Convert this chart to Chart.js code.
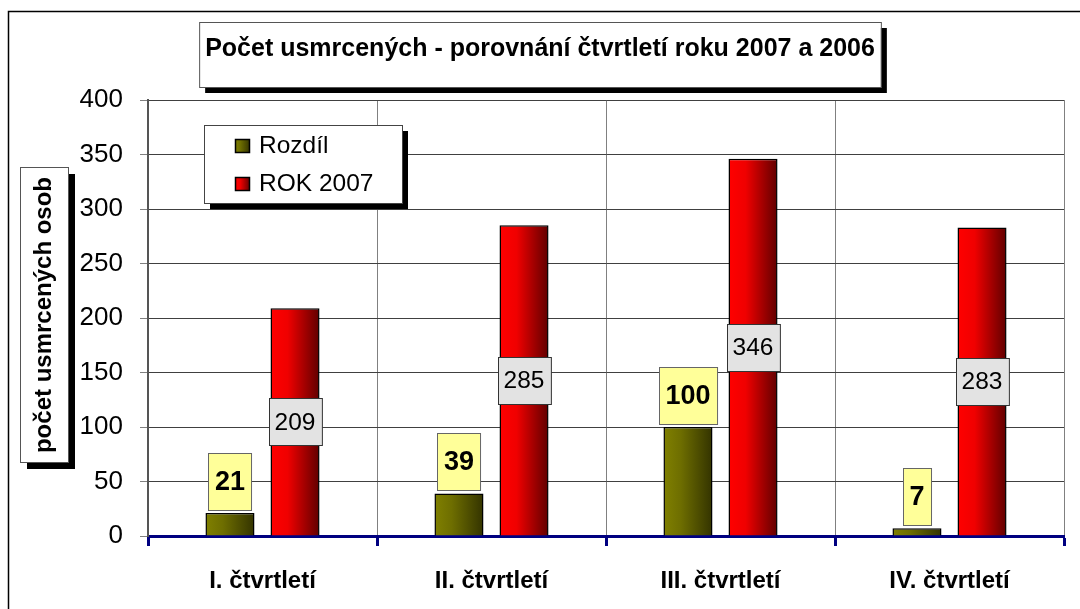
<!DOCTYPE html>
<html>
<head>
<meta charset="utf-8">
<script src="https://cdn.jsdelivr.net/npm/chart.js@4.4.1/dist/chart.umd.min.js"></script>
<style>
  html, body { margin: 0; padding: 0; background: #fff; }
  #wrap { width: 1080px; height: 609px; position: relative; }
</style>
</head>
<body>
<div id="wrap"><canvas id="chart" width="1080" height="609"></canvas></div>
<script>
// data
const categories = ['I. čtvrtletí', 'II. čtvrtletí', 'III. čtvrtletí', 'IV. čtvrtletí'];
const seriesNames = ['Rozdíl', 'ROK 2007'];
const rozdil = [21, 39, 100, 7];
const rok2007 = [209, 285, 346, 283];
const yMin = 0, yMax = 400, yStep = 50;
const chartTitle = 'Počet usmrcených - porovnání čtvrtletí roku 2007 a 2006';
const yTitle = 'počet usmrcených osob';

const FONT = "'Liberation Sans', Arial, sans-serif";
// gradient stops per series (left -> right of each bar)
const gradStops = [
    [[0, '#808000'], [0.35, '#6e6e00'], [1, '#333300']],
    [[0, '#ff0000'], [0.35, '#f00000'], [1, '#600000']]
];

function makeGrad(ctx, x0, x1, stops) {
    const g = ctx.createLinearGradient(x0, 0, x1, 0);
    stops.forEach(s => g.addColorStop(s[0], s[1]));
    return g;
}

function shadowBox(ctx, x, y, w, h, off, stroke) {
    ctx.save();
    ctx.fillStyle = '#000';
    ctx.fillRect(x + off, y + off, w, h);
    ctx.fillStyle = '#fff';
    ctx.fillRect(x, y, w, h);
    ctx.strokeStyle = stroke;
    ctx.lineWidth = 1;
    ctx.strokeRect(x + 0.5, y + 0.5, w, h);
    ctx.restore();
}

// frame, title box, y axis title
const decorPlugin = {
    id: 'decor',
    beforeDraw(chart) {
        const ctx = chart.ctx;
        ctx.save();
        ctx.fillStyle = '#fff';
        ctx.fillRect(0, 0, chart.width, chart.height);
        ctx.strokeStyle = '#000';
        ctx.lineWidth = 1.5;
        ctx.beginPath();
        ctx.moveTo(8.5, chart.height);
        ctx.lineTo(8.5, 11.5);
        ctx.lineTo(chart.width, 11.5);
        ctx.stroke();

        // box behind the chart title
        const tb = chart.titleBlock;
        const opts = tb.options;
        ctx.font = 'bold ' + opts.font.size + 'px ' + FONT;
        const tw = ctx.measureText(opts.text).width;
        const cx = tb.left + tb.width / 2;
        const cy = tb.top + opts.padding.top + opts.font.size * 1.2 / 2;
        shadowBox(ctx, cx - tw / 2 - 6, cy - 27, tw + 12, 65, 6, '#555');

        // y axis title in its own box
        shadowBox(ctx, 20, 167, 48, 295, 7, '#555');
        ctx.translate(44, 315);
        ctx.rotate(-Math.PI / 2);
        ctx.fillStyle = '#000';
        ctx.font = 'bold 24px ' + FONT;
        ctx.textAlign = 'center';
        ctx.textBaseline = 'middle';
        ctx.fillText(yTitle, 0, 0);
        ctx.restore();
    }
};

// horizontal gradient on each bar
const gradPlugin = {
    id: 'barGrad',
    beforeDatasetsDraw(chart) {
        const ctx = chart.ctx;
        chart.data.datasets.forEach((ds, di) => {
            chart.getDatasetMeta(di).data.forEach(bar => {
                const p = bar.getProps(['x', 'width'], true);
                bar.options.backgroundColor = makeGrad(ctx, p.x - p.width / 2, p.x + p.width / 2, gradStops[di]);
            });
        });
    }
};

// value boxes + legend
const labelPlugin = {
    id: 'valueBoxes',
    afterDatasetsDraw(chart) {
        const ctx = chart.ctx;
        ctx.save();
        ctx.textAlign = 'center';
        ctx.textBaseline = 'middle';

        // Rozdíl: yellow box sitting on top of the bar
        chart.getDatasetMeta(0).data.forEach((bar, i) => {
            const txt = String(chart.data.datasets[0].data[i]);
            ctx.font = 'bold 27px ' + FONT;
            const w = ctx.measureText(txt).width + 13;
            const h = 57;
            const bx = Math.round(bar.x - w / 2) + 0.5;
            const by = Math.round(bar.y - 3 - h) + 0.5;
            ctx.fillStyle = '#ffff99';
            ctx.fillRect(bx, by, w, h);
            ctx.strokeStyle = '#666';
            ctx.lineWidth = 1;
            ctx.strokeRect(bx, by, w, h);
            ctx.fillStyle = '#000';
            ctx.fillText(txt, bar.x, by + h / 2 + 1);
        });

        // ROK 2007: grey box in the middle of the bar
        chart.getDatasetMeta(1).data.forEach((bar, i) => {
            const txt = String(chart.data.datasets[1].data[i]);
            ctx.font = '24.5px ' + FONT;
            const w = ctx.measureText(txt).width + 12;
            const h = 47;
            const cy = (bar.y + bar.base) / 2;
            const bx = Math.round(bar.x - w / 2) + 0.5;
            const by = Math.round(cy - h / 2) + 0.5;
            ctx.fillStyle = '#e3e3e3';
            ctx.fillRect(bx, by, w, h);
            ctx.strokeStyle = '#333';
            ctx.lineWidth = 1;
            ctx.strokeRect(bx, by, w, h);
            ctx.fillStyle = '#000';
            ctx.fillText(txt, bar.x, cy + 1);
        });

        // legend
        shadowBox(ctx, 204, 125, 198, 78, 6, '#444');
        ctx.textAlign = 'left';
        ctx.font = '24.5px ' + FONT;
        chart.data.datasets.forEach((ds, di) => {
            const my = 139 + di * 38;
            ctx.fillStyle = makeGrad(ctx, 235, 250, gradStops[di]);
            ctx.fillRect(235, my, 15, 14);
            ctx.strokeStyle = '#000';
            ctx.lineWidth = 1.5;
            ctx.strokeRect(235.5, my + 0.5, 14, 13);
            ctx.fillStyle = '#000';
            ctx.fillText(ds.label, 259, my + 7);
        });
        ctx.restore();
    }
};

const ctx = document.getElementById('chart').getContext('2d');
const chart = new Chart(ctx, {
    type: 'bar',
    data: {
        labels: categories,
        datasets: [
            {
                label: seriesNames[0],
                data: rozdil,
                backgroundColor: () => '#808000',
                borderColor: '#000',
                borderWidth: 1.5,
                categoryPercentage: 0.568,
                barPercentage: 0.754
            },
            {
                label: seriesNames[1],
                data: rok2007,
                backgroundColor: () => '#ff0000',
                borderColor: '#000',
                borderWidth: 1.5,
                categoryPercentage: 0.568,
                barPercentage: 0.754
            }
        ]
    },
    options: {
        responsive: false,
        animation: false,
        events: [],
        devicePixelRatio: 1,
        layout: { padding: { left: 16, top: 0, bottom: 0, right: 16 } },
        scales: {
            x: {
                grid: {
                    offset: true,
                    color: '#808080',
                    lineWidth: 1,
                    tickLength: 10,
                    tickColor: '#000080',
                    tickWidth: 3
                },
                border: { color: '#000080', width: 3 },
                ticks: {
                    color: '#000',
                    padding: 21,
                    maxRotation: 0,
                    font: { family: FONT, size: 24, weight: 'bold' }
                },
                afterFit(scale) { scale.height = 73; }
            },
            y: {
                min: yMin,
                max: yMax,
                grid: {
                    color: '#404040',
                    tickLength: 8,
                    tickColor: '#808080'
                },
                border: { color: '#555', width: 2 },
                ticks: {
                    stepSize: yStep,
                    color: '#000',
                    padding: 17,
                    font: { family: FONT, size: 26 }
                },
                afterFit(scale) { scale.width = 132; }
            }
        },
        plugins: {
            legend: { display: false },
            tooltip: { enabled: false },
            title: {
                display: true,
                text: chartTitle,
                color: '#000',
                font: { family: FONT, size: 25, weight: 'bold' },
                padding: { top: 34, bottom: 36 }
            }
        }
    },
    plugins: [decorPlugin, gradPlugin, labelPlugin]
});
</script>
</body>
</html>
